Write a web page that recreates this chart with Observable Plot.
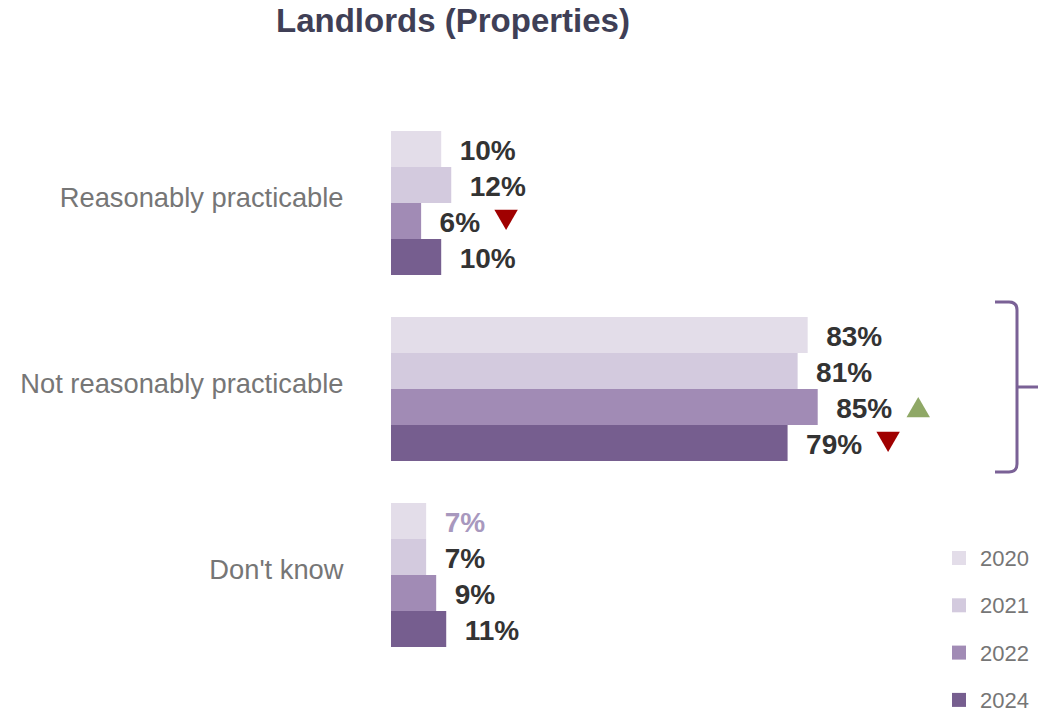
<!DOCTYPE html>
<html><head><meta charset="utf-8">
<script src="https://cdn.jsdelivr.net/npm/d3@7"></script>
<script src="https://cdn.jsdelivr.net/npm/@observablehq/plot@0.6"></script>
<style>
html,body{margin:0;padding:0;background:#fff;}
#wrap{position:relative;width:1038px;height:711px;font-family:"Liberation Sans",Arial,sans-serif;}
#title{position:absolute;left:0;top:3px;width:906px;text-align:center;font-size:33px;font-weight:bold;color:#3f3f56;line-height:36px;}
#chart{position:absolute;left:0;top:0;}
</style></head><body>
<div id="wrap"><div id="chart"></div><div id="title">Landlords (Properties)</div></div>
<script>
// ---- data ----
const categories = ["Reasonably practicable", "Not reasonably practicable", "Don't know"];
const years = ["2020", "2021", "2022", "2024"];
const reasonablyPracticable = [10, 12, 6, 10];
const notReasonablyPracticable = [83, 81, 85, 79];
const dontKnow = [7, 7, 9, 11];
const significantChanges = [
  {category: "Reasonably practicable", year: "2022", direction: "down"},
  {category: "Not reasonably practicable", year: "2022", direction: "up"},
  {category: "Not reasonably practicable", year: "2024", direction: "down"}
];
const mutedLabels = [{category: "Don't know", year: "2020"}];
const bracketCategory = "Not reasonably practicable";

// ---- build table ----
const series = [reasonablyPracticable, notReasonablyPracticable, dontKnow];
const rows = [];
categories.forEach((c, i) => years.forEach((y, j) => rows.push({category: c, year: y, value: series[i][j]})));
const isMuted = d => mutedLabels.some(m => m.category === d.category && m.year === d.year);
const fmt = d => d.value + "%";

const colors = ["#e3dde9", "#d3cade", "#a18bb5", "#765e8f"];
const FONT = '"Liberation Sans", Arial, sans-serif';

const ctx = document.createElement("canvas").getContext("2d");
ctx.font = `bold 28px ${FONT}`;

const triMarks = significantChanges.map(s => {
  const row = rows.find(r => r.category === s.category && r.year === s.year);
  const w = ctx.measureText(fmt(row)).width;
  const down = s.direction === "down";
  return Plot.dot([row], {
    x: "value", y: "year", fy: "category",
    dx: 18 + w + 26, dy: down ? -5 : 3,
    r: 8.7, symbol: "triangle", rotate: down ? 180 : 0,
    fill: down ? "#a00000" : "#8fa866", stroke: "none"
  });
});

const plot = Plot.plot({
  width: 1038, height: 711,
  marginLeft: 391, marginRight: 145, marginTop: 131, marginBottom: 64,
  style: {fontFamily: FONT, background: "#fff", overflow: "visible"},
  x: {domain: [0, 100], axis: null},
  y: {domain: years, padding: 0, axis: null},
  fy: {domain: categories, paddingInner: 0.226, paddingOuter: 0, axis: null},
  color: {domain: years, range: colors},
  marks: [
    Plot.barX(rows, {x: "value", y: "year", fy: "category", fill: "year"}),
    Plot.text(rows.filter(d => !isMuted(d)), {x: "value", y: "year", fy: "category", text: fmt, dx: 18, dy: 2, textAnchor: "start", fontSize: 28, fontWeight: "bold", fill: "#333333"}),
    Plot.text(rows.filter(isMuted), {x: "value", y: "year", fy: "category", text: fmt, dx: 18, dy: 2, textAnchor: "start", fontSize: 28, fontWeight: "bold", fill: "#a898be"}),
    ...triMarks,
    Plot.axisFy({anchor: "left", tickSize: 0, tickPadding: 48, fontSize: 27.3, fill: "#767676", label: null, dy: -5})
  ]
});
document.getElementById("chart").appendChild(plot);

// ---- bracket annotation ----
const svg = d3.select(plot);
const xs = plot.scale("x"), fys = plot.scale("fy");
const top0 = fys.apply(bracketCategory);
const bw = fys.bandwidth;
const xr = xs.range[1];
const bx = xr + 124, bl = bx - 22;
const by0 = top0 - 15, by1 = top0 + bw + 11, bm = (by0 + by1) / 2;
svg.append("path")
  .attr("d", `M${bl},${by0}H${bx-8}Q${bx},${by0} ${bx},${by0+8}V${by1-8}Q${bx},${by1} ${bx-8},${by1}H${bl}M${bx},${bm}H${bx+24}`)
  .attr("fill", "none").attr("stroke", "#7a6196").attr("stroke-width", 3);

// ---- legend ----
const color = plot.scale("color");
const lg = svg.append("g").attr("text-anchor", "start");
years.forEach((y, i) => {
  const cy = 558 + i * 47.3;
  lg.append("rect").attr("x", 952).attr("y", cy - 7).attr("width", 14).attr("height", 14).attr("fill", color.apply(y));
  lg.append("text").attr("x", 980).attr("y", cy + 8).attr("text-anchor", "start")
    .style("font-size", "22px").attr("fill", "#767676").attr("font-family", FONT).text(y);
});
</script>
</body></html>
